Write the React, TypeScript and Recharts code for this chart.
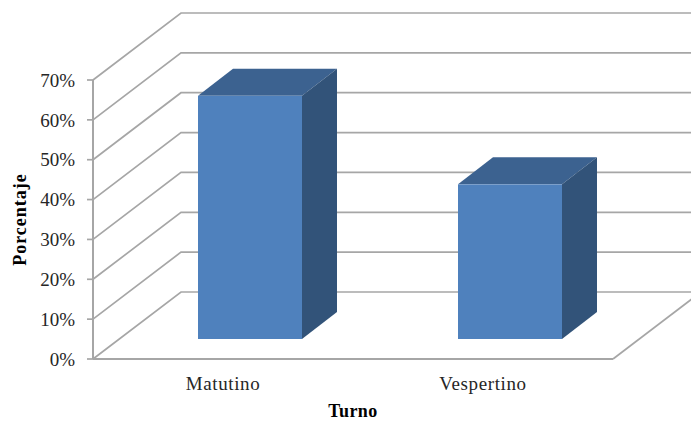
import { BarChart, Bar, XAxis, YAxis, CartesianGrid } from 'recharts';

const turnos = ['Matutino', 'Vespertino'];
const porcentajes = [61, 38.8];
const yTicks = [0, 10, 20, 30, 40, 50, 60, 70];

const chartData = turnos.map((turno, i) => ({ turno, porcentaje: porcentajes[i] }));

const serif = '"Liberation Serif", "Times New Roman", serif';
const gridColor = '#a6a6a6';

// fake 3D: how far the back wall and the bars are pushed
const wallDx = 88;
const wallDy = -67;
const barDx = 27;
const barDy = -20;
const barDepthX = 35;
const barDepthY = -27;

const WallLine = (props: any) => {
  const { x1, x2, y1, y, height } = props;
  const isFloor = y1 >= y + height - 0.5;
  return (
    <g fill="none" stroke={gridColor} strokeWidth={1.7}>
      <polyline
        points={`${x1},${y1} ${x1 + wallDx},${y1 + wallDy} ${x2 + wallDx},${y1 + wallDy}`}
      />
      {isFloor && <line x1={x2} y1={y1} x2={x2 + wallDx} y2={y1 + wallDy} />}
    </g>
  );
};

const Box = (props: any) => {
  const { x, y, width, height } = props;
  const left = x + barDx;
  const right = left + width;
  const top = y + barDy;
  const bottom = top + height;
  return (
    <g>
      <polygon
        points={`${left},${top} ${left + barDepthX},${top + barDepthY} ${right + barDepthX},${top + barDepthY} ${right},${top}`}
        fill="#3c6290"
      />
      <polygon
        points={`${right},${top} ${right + barDepthX},${top + barDepthY} ${right + barDepthX},${bottom + barDepthY} ${right},${bottom}`}
        fill="#325379"
      />
      <rect x={left} y={top} width={width} height={height} fill="#4f81bd" />
    </g>
  );
};

export default function App() {
  return (
    <div style={{ position: 'absolute', left: 0, top: 0, background: '#fff' }}>
      <BarChart
        width={691}
        height={421}
        data={chartData}
        margin={{ top: 80, right: 78, bottom: 0, left: 0 }}
      >
        <CartesianGrid vertical={false} horizontal={(p: any) => <WallLine {...p} />} />
        <XAxis
          dataKey="turno"
          height={62}
          tickLine={false}
          axisLine={{ stroke: gridColor, strokeWidth: 2 }}
          tickMargin={12}
          tick={{ fontFamily: serif, fontSize: 19, fill: '#262626', letterSpacing: 0.6 }}
          label={{
            value: 'Turno',
            position: 'insideBottom',
            offset: 4,
            style: { fontFamily: serif, fontSize: 18, fontWeight: 700, fill: '#000', letterSpacing: 0.4 },
          }}
        />
        <YAxis
          width={93}
          domain={[0, 70]}
          ticks={yTicks}
          interval={0}
          tickFormatter={(v: number) => `${v}%`}
          tickSize={6}
          tickMargin={12}
          tickLine={{ stroke: gridColor, strokeWidth: 1.7 }}
          axisLine={{ stroke: gridColor, strokeWidth: 2 }}
          tick={{ fontFamily: serif, fontSize: 19, fill: '#262626' }}
          label={{
            value: 'Porcentaje',
            angle: -90,
            position: 'insideLeft',
            offset: 20,
            style: { fontFamily: serif, fontSize: 18, fontWeight: 700, fill: '#000', textAnchor: 'middle', letterSpacing: 1 },
          }}
        />
        <Bar dataKey="porcentaje" barSize={104} shape={Box} isAnimationActive={false} />
      </BarChart>
    </div>
  );
}
